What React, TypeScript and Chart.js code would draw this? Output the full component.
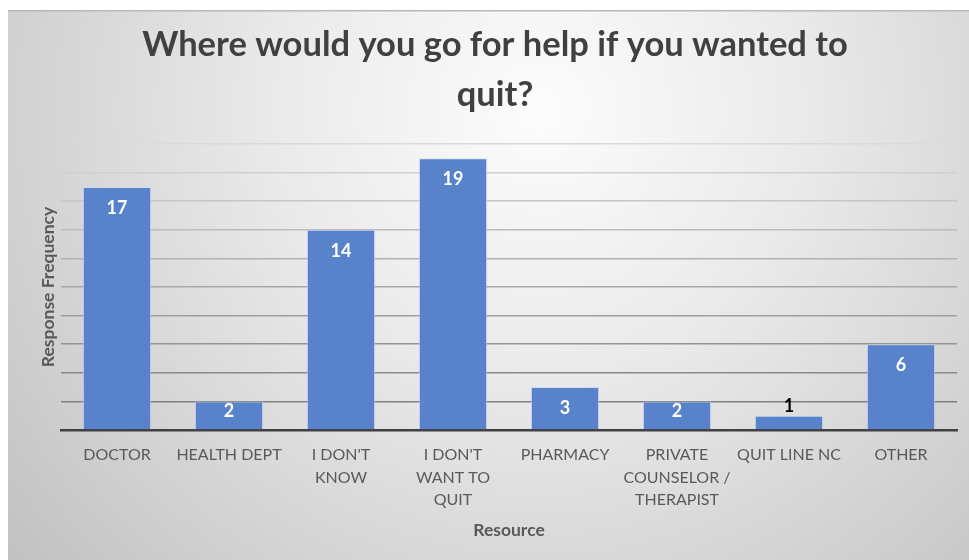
import React, { useEffect, useRef } from "react";
import { Chart, registerables } from "chart.js";

Chart.register(...registerables);

const categories: string[][] = [
  ["DOCTOR"],
  ["HEALTH DEPT"],
  ["I DON'T", "KNOW"],
  ["I DON'T", "WANT TO", "QUIT"],
  ["PHARMACY"],
  ["PRIVATE", "COUNSELOR /", "THERAPIST"],
  ["QUIT LINE NC"],
  ["OTHER"],
];
const responses: number[] = [17, 2, 14, 19, 3, 2, 1, 6];
const titleLines: string[] = ["Where would you go for help if you wanted to", "quit?"];
const yTitle = "Response Frequency";
const xTitle = "Resource";
const yMax = 20;
const yStep = 2;

const FONT = "Lato, 'Open Sans', sans-serif";

const backgroundPlugin = {
  id: "bgGradient",
  beforeDraw(chart: any) {
    const { ctx, width, height } = chart;
    ctx.save();
    ctx.fillStyle = "#ffffff";
    ctx.fillRect(0, 0, width, height);
    const g = ctx.createRadialGradient(540, 110, 20, 540, 110, 720);
    g.addColorStop(0, "#fbfbfb");
    g.addColorStop(0.35, "#eaeaea");
    g.addColorStop(1, "#bfbfbf");
    ctx.fillStyle = g;
    ctx.fillRect(8, 10, width - 8, height - 10);
    ctx.fillStyle = "#b8b8b8";
    ctx.fillRect(8, 10, width - 8, 1.5);
    ctx.restore();
  },
};

const dataLabelPlugin = {
  id: "dataLabels",
  afterDatasetsDraw(chart: any) {
    const { ctx } = chart;
    const meta = chart.getDatasetMeta(0);
    const data = chart.data.datasets[0].data as number[];
    ctx.save();
    ctx.textAlign = "center";
    ctx.textBaseline = "middle";
    ctx.font = `bold 18px ${FONT}`;
    meta.data.forEach((bar: any, i: number) => {
      const v = data[i];
      if (v >= 2) {
        ctx.fillStyle = "#ffffff";
        ctx.fillText(String(v), bar.x, Math.min(bar.y + 21, bar.base - 18));
      } else {
        ctx.fillStyle = "#000000";
        ctx.fillText(String(v), bar.x, bar.y - 10);
      }
    });
    ctx.restore();
  },
};

export default function App() {
  const ref = useRef<HTMLCanvasElement | null>(null);
  useEffect(() => {
    if (!ref.current) return;
    const chart = new Chart(ref.current, {
      type: "bar",
      data: {
        labels: categories,
        datasets: [
          {
            data: responses,
            backgroundColor: "#5882c9",
            borderColor: "rgba(200,215,240,0.7)",
            borderWidth: 1,
            barPercentage: 0.61,
            categoryPercentage: 1,
          },
        ],
      },
      options: {
        responsive: false,
        animation: false,
        devicePixelRatio: 1,
        layout: { padding: { left: 33, right: 12, top: 0, bottom: 0 } },
        plugins: {
          legend: { display: false },
          tooltip: { enabled: false },
          title: {
            display: true,
            text: titleLines,
            color: "#404040",
            font: { family: FONT, size: 34.5, weight: "bold", lineHeight: 50 / 34.5 },
            padding: { top: 20, bottom: 24 },
          },
        },
        scales: {
          x: {
            grid: { display: false, drawTicks: false },
            border: { display: true, color: "#404040", width: 2.5 },
            ticks: {
              color: "#595959",
              font: { family: FONT, size: 16, lineHeight: 22.5 / 16 },
              padding: 14,
              maxRotation: 0,
              autoSkip: false,
            },
            title: {
              display: true,
              text: xTitle,
              color: "#595959",
              font: { family: FONT, size: 17.5, weight: "bold", lineHeight: 1.2 },
              padding: { top: 0, bottom: 19.5 },
            },
            afterFit: (scale: any) => {
              scale.height = 130;
            },
          },
          y: {
            min: 0,
            max: yMax,
            ticks: { display: false, stepSize: yStep },
            border: { display: false },
            grid: {
              drawTicks: false,
              lineWidth: 1.5,
              color: (c: any) => {
                const v = c.tick ? c.tick.value : 0;
                const t = Math.max(0, Math.min(1, (v - yStep) / (yMax - yStep)));
                const g = Math.round(128 + (218 - 128) * t);
                return `rgb(${g},${g},${g})`;
              },
            },
            title: {
              display: true,
              text: yTitle,
              color: "#595959",
              font: { family: FONT, size: 17.5, weight: "bold", lineHeight: 1.2 },
              padding: { top: 4.5, bottom: 0 },
            },
            afterFit: (scale: any) => {
              scale.width = 28;
            },
          },
        },
      },
      plugins: [backgroundPlugin, dataLabelPlugin],
    });
    return () => chart.destroy();
  }, []);
  return (
    <div style={{ position: "fixed", left: 0, top: 0, width: 969, height: 560 }}>
      <canvas ref={ref} width={969} height={560} style={{ width: 969, height: 560, display: "block" }} />
    </div>
  );
}
